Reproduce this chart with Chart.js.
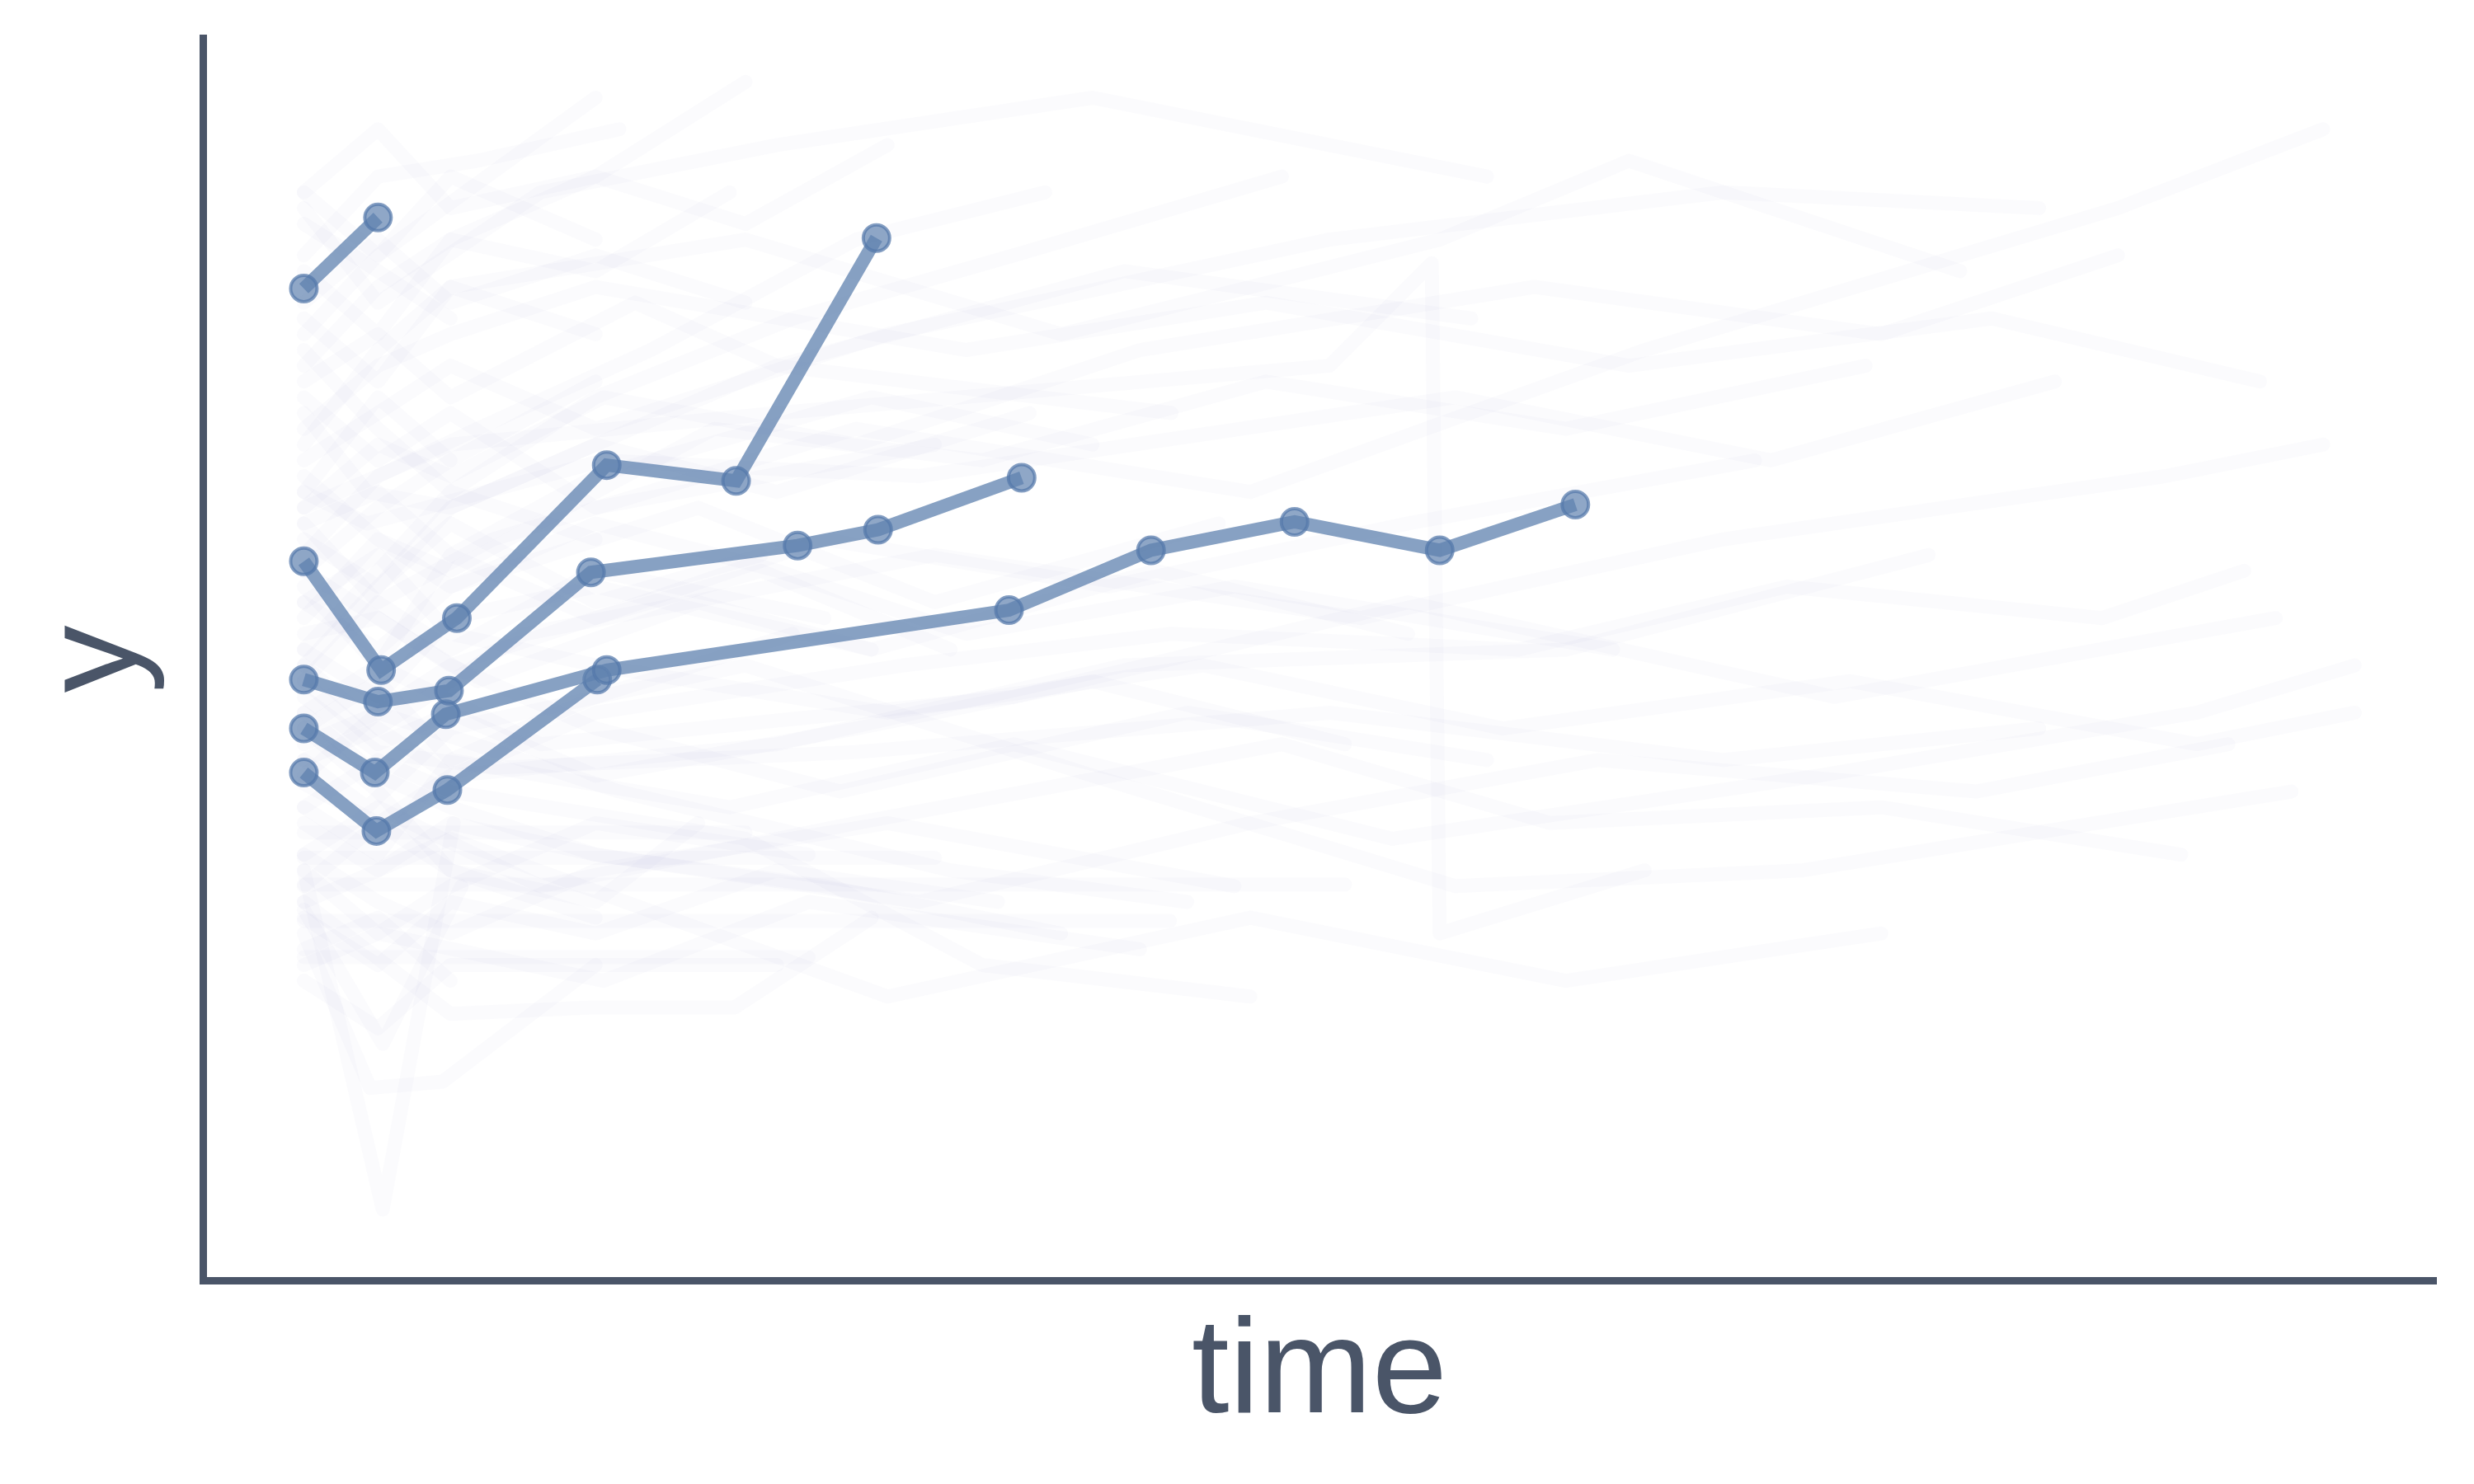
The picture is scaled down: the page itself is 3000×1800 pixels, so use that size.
<!DOCTYPE html>
<html>
<head>
<meta charset="utf-8">
<script src="https://cdn.jsdelivr.net/npm/chart.js@4"></script>
<style>
  html, body { margin: 0; padding: 0; background: #ffffff; }
  #wrap { width: 3000px; height: 1800px; }
</style>
</head>
<body>
<div id="wrap"><canvas id="spaghetti"></canvas></div>
<script>
// highlighted subjects (time, y)
const subjA_time = [0, 0.47];
const subjA_y = [6.29, 6.74];
const subjB_time = [0, 0.49, 0.97, 1.92, 2.74, 3.63];
const subjB_y = [4.56, 3.87, 4.20, 5.17, 5.07, 6.61];
const subjC_time = [0, 0.47, 0.92, 1.82, 3.13, 3.64, 4.55];
const subjC_y = [3.81, 3.67, 3.74, 4.49, 4.66, 4.76, 5.09];
const subjD_time = [0, 0.45, 0.90, 1.92, 4.47, 5.37, 6.28, 7.20, 8.06];
const subjD_y = [3.50, 3.22, 3.59, 3.87, 4.25, 4.63, 4.81, 4.63, 4.92];
const subjE_time = [0, 0.46, 0.91, 1.86];
const subjE_y = [3.22, 2.85, 3.11, 3.81];

// faint background subjects
const bgTimes = [
    [0, 0.47, 1.85],
    [0, 0.5, 0.95],
    [0, 0.42, 0.88, 1.85],
    [0, 0.93, 1.82, 2.73, 3.6],
    [0, 0.47, 0.93, 1.85, 5.49],
    [0, 0.47, 0.93, 1.85, 3.2],
    [0, 0.47, 0.93, 1.85, 6.6],
    [0, 0.47, 0.93, 1.85, 4.0],
    [0, 0.47, 0.93, 2.8],
    [0, 0.47, 0.93, 1.85, 3.1, 4.5, 6.2],
    [0, 0.47, 0.93, 2.8, 4.3, 6.0],
    [0, 0.47, 1.5, 3.0, 5.0, 7.5],
    [0, 0.47, 0.93, 1.85, 3.7, 6.5, 9.0, 11.0],
    [0, 0.4, 0.93, 2.8, 5.0, 7.3, 9.5, 12.6],
    [0, 0.47, 1.2, 3.5, 6.0, 8.5, 11.5, 12.8],
    [0, 0.47, 0.93, 3.7, 6.0, 8.0, 10.0],
    [0, 0.47, 1.5, 4.5, 7.0, 9.7, 12.5],
    [0, 0.47, 0.93, 2.5, 4.0, 5.8],
    [0, 0.47, 0.93, 2.8, 4.8, 7.2, 8.4, 10.5],
    [0, 0.47, 1.9, 3.2, 5.3],
    [0, 0.4, 0.93, 3.0, 5.5],
    [0, 0.47, 1.4, 4.0, 6.7, 9.0, 11.8, 12.8],
    [0, 0.47, 1.1, 2.2, 3.5, 4.7],
    [0, 0.47, 1.5, 3.5, 6.2, 7.9, 10.0, 11.9],
    [0, 0.47, 2.0, 4.1, 5.6],
    [0, 0.47, 1.1, 2.0],
    [0, 0.4, 1.9, 3.9, 7.3, 9.3, 11.1],
    [0, 0.47, 0.93, 3.0, 5.2, 8.0, 10.3],
    [0, 0.47, 1.1, 2.5, 3.6],
    [0, 0.47, 0.93, 3.0],
    [0, 0.47, 0.93, 2.1, 3.0, 5.2, 7.4],
    [0, 0.47, 1.2, 3.5, 6.5, 9.0, 11.0],
    [0, 0.93, 3.0, 6.5, 7.15, 7.2, 8.5],
    [0, 0.47, 0.93, 1.85, 2.8],
    [0, 0.47, 0.93, 1.85, 3.6, 5.0],
    [0, 0.47, 0.93, 2.7, 4.5, 6.9, 9.6, 12.0, 13.0],
    [0, 0.47, 0.93, 1.9, 3.5, 5.3, 7.8, 10.0, 11.5],
    [0, 0.5, 1.0],
    [0, 0.47, 0.93, 1.85],
    [0, 0.47, 0.93, 1.85, 3.3],
    [0, 0.47, 0.93, 1.85, 2.8, 3.7],
    [0, 0.47, 0.93, 1.85],
    [0, 0.47, 0.93, 1.85, 3.0, 4.6],
    [0, 0.47, 0.93, 1.85, 2.9],
    [0, 0.47, 0.93, 1.85, 3.4, 5.6, 7.5],
    [0, 0.47, 0.93, 1.85],
    [0, 0.47, 0.93, 1.85, 3.7, 5.9],
    [0, 0.47, 0.93],
    [0, 0.47, 0.93, 1.85, 4.0],
    [0, 0.47, 0.93, 1.85, 2.6, 4.3, 6.1, 8.0, 9.9],
    [0, 0.47, 0.93, 1.85, 3.1],
    [0, 0.47, 0.93, 1.85, 3.9, 6.0, 8.2, 10.6, 12.2],
    [0, 0.47, 0.93, 1.85],
    [0, 0.47, 0.93, 1.85, 3.3, 4.8],
    [0, 0.47, 0.93, 1.85, 2.7],
    [0, 0.47, 0.93, 1.85, 3.6, 5.4, 7.0],
    [0, 0.47, 0.93],
    [0, 0.47, 0.93, 1.85, 3.0, 4.2, 5.9, 8.3],
    [0, 0.47, 0.93, 1.85, 3.8, 5.5, 7.7, 9.4, 11.4, 12.3],
    [0, 0.47, 0.93, 1.85, 2.8],
    [0, 0.47, 0.93, 1.85, 3.2],
    [0, 0.47, 0.93, 1.85, 2.9, 4.1],
    [0, 0.47, 0.93, 1.85, 3.5, 5.0, 6.6],
    [0, 0.47, 0.93, 1.85],
    [0, 0.47, 0.93, 1.85, 4.2, 6.1, 8.4, 10.7, 12.4],
    [0, 0.47, 0.93, 1.85, 2.5],
    [0, 0.47, 0.93, 1.85, 3.0, 4.4],
    [0, 0.47, 0.93, 1.85, 3.3, 5.1, 7.0, 9.2],
    [0, 0.47, 0.93],
    [0, 0.47, 0.93, 1.85, 3.7, 5.7, 7.6, 9.8, 12.0, 13.0]
];
const bgValues = [
    [6.0, 6.5, 7.5],
    [2.6, 0.45, 2.9],
    [2.2, 1.22, 1.26, 2.0],
    [2.4, 1.69, 1.73, 1.73, 2.3],
    [2.28, 2.28, 2.28, 2.28, 2.28],
    [2.05, 2.05, 2.05, 2.05, 2.05],
    [2.51, 2.51, 2.51, 2.51, 2.51],
    [2.68, 2.68, 2.68, 2.68, 2.68],
    [2.84, 2.84, 2.84, 2.84],
    [4.0, 4.5, 5.0, 5.6, 6.1, 6.5, 7.0],
    [3.0, 3.3, 3.1, 2.8, 2.0, 1.8],
    [6.8, 6.2, 6.9, 7.2, 7.5, 7.0],
    [5.2, 5.5, 5.8, 5.4, 6.0, 6.6, 6.9, 6.8],
    [3.3, 3.0, 3.5, 3.9, 3.2, 2.5, 2.6, 3.1],
    [4.8, 4.3, 4.7, 5.4, 5.0, 5.9, 6.8, 7.3],
    [2.9, 2.6, 2.8, 1.8, 2.3, 1.9, 2.2],
    [3.6, 3.9, 3.4, 3.7, 4.3, 3.7, 4.2],
    [4.3, 4.0, 4.4, 4.9, 4.3, 4.8],
    [6.1, 5.7, 6.3, 6.6, 6.0, 6.6, 7.1, 6.4],
    [2.0, 2.2, 1.9, 2.4, 2.1],
    [5.5, 5.0, 4.9, 5.8, 5.5],
    [3.9, 3.5, 4.1, 4.6, 4.2, 4.7, 5.1, 5.3],
    [4.6, 5.1, 5.4, 5.9, 6.6, 6.9],
    [2.7, 3.0, 2.5, 2.9, 3.4, 2.9, 3.0, 2.7],
    [3.4, 3.6, 3.1, 2.6, 2.4],
    [6.5, 7.0, 7.1, 7.3],
    [5.0, 4.8, 5.2, 5.1, 5.6, 5.2, 5.7],
    [3.15, 2.9, 3.2, 3.4, 3.9, 4.0, 4.6],
    [4.1, 4.2, 3.8, 4.3, 4.0],
    [1.9, 1.6, 2.0, 2.0],
    [5.7, 6.0, 5.6, 6.2, 5.8, 6.4, 6.1],
    [3.7, 3.35, 3.25, 3.35, 3.6, 3.3, 3.5],
    [4.9, 5.3, 5.5, 5.8, 6.45, 2.2, 2.6],
    [6.9, 7.3, 6.8, 7.0, 7.6],
    [4.4, 3.9, 4.6, 5.1, 5.6, 5.3],
    [3.5, 3.8, 3.3, 3.0, 3.4, 2.8, 3.2, 3.6, 3.9],
    [4.9, 5.3, 5.1, 5.6, 5.3, 5.9, 6.3, 6.0, 6.5],
    [2.35, 1.5, 2.5],
    [5.9, 5.4, 5.0, 4.7],
    [3.8, 4.3, 4.0, 4.5, 4.2],
    [6.4, 6.0, 6.6, 7.0, 6.7, 7.2],
    [5.3, 5.9, 6.3, 6.0],
    [4.7, 4.4, 4.9, 5.3, 5.0, 5.5],
    [3.9, 4.4, 4.8, 4.3, 4.6],
    [3.2, 3.6, 3.9, 3.5, 3.1, 3.6, 3.3],
    [2.5, 2.9, 2.6, 2.3],
    [2.7, 2.4, 2.2, 2.6, 2.9, 2.5],
    [6.7, 6.4, 6.1],
    [5.6, 5.2, 5.5, 4.9, 5.3],
    [4.2, 4.7, 4.5, 5.0, 5.4, 5.2, 5.7, 5.4, 5.8],
    [3.0, 2.7, 3.3, 3.7, 4.1],
    [2.4, 2.6, 2.9, 2.7, 2.4, 2.9, 3.3, 3.1, 3.4],
    [4.5, 4.9, 5.2, 5.7],
    [3.6, 3.2, 3.0, 2.7, 2.5, 2.2],
    [5.8, 6.3, 6.6, 6.4, 6.9],
    [4.0, 3.7, 4.2, 4.4, 4.0, 4.5, 4.1],
    [2.1, 2.3, 1.9],
    [5.1, 4.7, 4.4, 4.8, 4.5, 4.1, 4.4, 4.0],
    [3.3, 3.5, 3.2, 3.6, 3.9, 4.1, 4.0, 4.4, 4.2, 4.5],
    [6.2, 6.6, 6.2, 6.5, 6.2],
    [2.6, 2.2, 2.5, 2.9, 2.7],
    [4.8, 5.0, 4.6, 4.2, 4.5, 4.0],
    [3.8, 3.4, 3.6, 3.2, 3.5, 3.8, 3.4],
    [6.9, 6.5, 7.0, 6.6],
    [5.4, 5.8, 6.0, 6.3, 5.9, 6.2, 5.8, 6.1, 5.7],
    [3.5, 3.1, 2.6, 2.4, 2.9],
    [2.3, 2.0, 2.4, 2.2, 2.6, 2.4],
    [4.5, 4.2, 3.9, 4.2, 4.7, 4.4, 4.8, 5.2],
    [5.0, 5.6, 5.2],
    [4.3, 4.6, 4.1, 3.9, 3.6, 3.9, 3.5, 3.8, 3.4, 3.6]
];

const axisColor = '#4a5568';

function toPoints(times, values) {
    return times.map((t, i) => ({ x: t, y: values[i] }));
}

const datasets = [];

// highlighted subjects go on top
[
    [subjA_time, subjA_y],
    [subjB_time, subjB_y],
    [subjC_time, subjC_y],
    [subjD_time, subjD_y],
    [subjE_time, subjE_y]
].forEach(pair => {
    datasets.push({
        data: toPoints(pair[0], pair[1]),
        borderColor: 'rgba(95, 130, 175, 0.75)',
        borderWidth: 16,
        pointRadius: 16,
        pointBorderWidth: 4,
        pointBackgroundColor: 'rgba(95, 130, 175, 0.7)',
        pointBorderColor: 'rgba(85, 120, 170, 0.72)',
        tension: 0,
        order: 0
    });
});

// the crowd of other subjects, very faint
bgTimes.forEach((times, i) => {
    datasets.push({
        data: toPoints(times, bgValues[i]),
        borderColor: 'rgba(120, 130, 180, 0.032)',
        borderWidth: 17,
        borderCapStyle: 'round',
        borderJoinStyle: 'round',
        pointRadius: 0,
        tension: 0,
        order: 1
    });
});

const ctx = document.getElementById('spaghetti').getContext('2d');
new Chart(ctx, {
    type: 'line',
    data: { datasets: datasets },
    options: {
        responsive: true,
        maintainAspectRatio: false,
        devicePixelRatio: 1,
        animation: false,
        layout: { padding: { left: 0, right: 46, top: 46, bottom: 0 } },
        plugins: {
            legend: { display: false },
            tooltip: { enabled: false }
        },
        scales: {
            x: {
                type: 'linear',
                min: -0.64,
                max: 13.516,
                grid: { display: false, drawTicks: false },
                ticks: { display: false },
                border: { display: true, color: axisColor, width: 9 },
                title: {
                    display: true,
                    text: 'time',
                    color: axisColor,
                    font: { family: 'Liberation Sans', size: 164, lineHeight: 1 },
                    padding: { top: 33, bottom: 50 }
                }
            },
            y: {
                type: 'linear',
                min: 0,
                max: 7.879,
                grid: { display: false, drawTicks: false },
                ticks: { display: false },
                border: { display: true, color: axisColor, width: 9 },
                title: {
                    display: true,
                    text: 'y',
                    color: axisColor,
                    font: { family: 'Liberation Sans', size: 164, lineHeight: 1 },
                    padding: { top: 38, bottom: 44 }
                }
            }
        }
    }
});
</script>
</body>
</html>
